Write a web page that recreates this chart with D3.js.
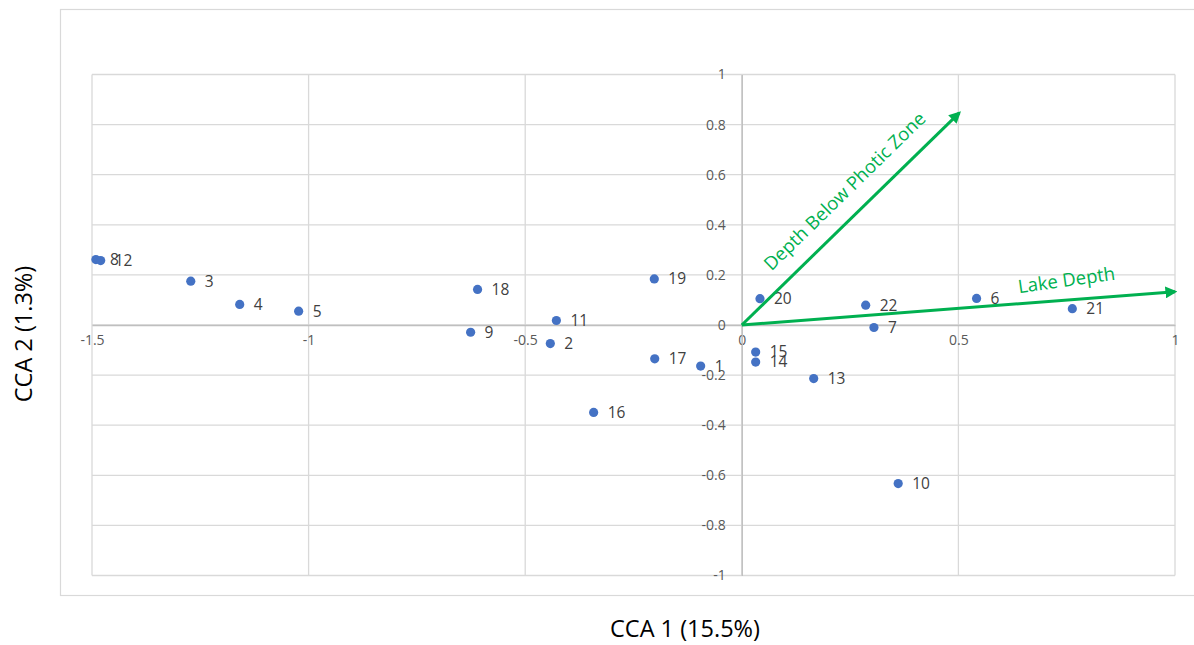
<!DOCTYPE html>
<html>
<head>
<meta charset="utf-8">
<script src="https://cdn.jsdelivr.net/npm/d3@7"></script>
<style>
  html, body { margin: 0; padding: 0; background: #fff; }
  svg { display: block; }
</style>
</head>
<body>
<svg id="chart" width="1194" height="645"></svg>
<script>
// Site scores on the first two CCA axes
const siteIds = ["1","2","3","4","5","6","7","8","9","10","11","12","13","14","15","16","17","18","19","20","21","22"];
const cca1 = [-0.095,-0.442,-1.272,-1.159,-1.023,0.542,0.305,-1.491,-0.626,0.361,-0.428,-1.480,0.166,0.032,0.032,-0.342,-0.201,-0.610,-0.202,0.042,0.763,0.286];
const cca2 = [-0.164,-0.074,0.175,0.082,0.055,0.106,-0.010,0.261,-0.029,-0.633,0.018,0.257,-0.214,-0.148,-0.108,-0.349,-0.135,0.142,0.184,0.105,0.065,0.079];

// Environmental variable vectors (biplot arrows)
const envNames = ["Lake Depth", "Depth Below Photic Zone"];
const envX = [1.0, 0.502];
const envY = [0.133, 0.847];

// Axis ticks
const xTicks = [-1.5, -1, -0.5, 0, 0.5, 1];
const yTicks = [-1, -0.8, -0.6, -0.4, -0.2, 0, 0.2, 0.4, 0.6, 0.8, 1];

const svg = d3.select("#chart");
const font = "'Open Sans', 'Noto Sans', sans-serif";

const x = d3.scaleLinear().domain([-1.5, 1]).range([92, 1175]);
const y = d3.scaleLinear().domain([-1, 1]).range([575.5, 74.5]);

// Chart frame
svg.append("rect")
  .attr("x", 60.5).attr("y", 9.5).attr("width", 1140).attr("height", 586)
  .attr("fill", "#fff").attr("stroke", "#d9d9d9").attr("stroke-width", 1.2);

// Gridlines
const grid = svg.append("g").attr("stroke", "#d9d9d9").attr("stroke-width", 1.3);
grid.selectAll("line.v").data(xTicks).join("line")
  .attr("x1", d => x(d)).attr("x2", d => x(d))
  .attr("y1", y(1)).attr("y2", y(-1));
grid.selectAll("line.h").data(yTicks).join("line")
  .attr("y1", d => y(d)).attr("y2", d => y(d))
  .attr("x1", x(-1.5)).attr("x2", x(1));

// Axes through the origin
const xAxis = d3.axisBottom(x).tickValues(xTicks).tickSize(0).tickPadding(10)
  .tickFormat(d => String(d));
const yAxis = d3.axisLeft(y).tickValues(yTicks).tickSize(0).tickPadding(16)
  .tickFormat(d => String(+d.toFixed(1)));

const gx = svg.append("g").attr("transform", `translate(0,${y(0)})`).call(xAxis);
const gy = svg.append("g").attr("transform", `translate(${x(0)},0)`).call(yAxis);
[gx, gy].forEach(g => {
  g.select(".domain").attr("stroke", "#bfbfbf").attr("stroke-width", 1.3);
  g.selectAll("text").attr("fill", "#595959").style("font-family", font).style("font-size", "14px");
});

// Site points and labels
const sites = siteIds.map((id, i) => ({ id, cx: cca1[i], cy: cca2[i] }));
svg.append("g").selectAll("circle").data(sites).join("circle")
  .attr("cx", d => x(d.cx)).attr("cy", d => y(d.cy)).attr("r", 4.6)
  .attr("fill", "#4472c4");
svg.append("g").selectAll("text").data(sites).join("text")
  .attr("x", d => x(d.cx) + 14).attr("y", d => y(d.cy))
  .attr("dy", "0.35em")
  .attr("fill", "#404040")
  .style("font-family", font).style("font-size", "15.5px")
  .text(d => d.id);

// Environmental arrows
const green = "#00b050";
svg.append("defs").append("marker")
  .attr("id", "head").attr("viewBox", "0 0 10 10")
  .attr("refX", 8).attr("refY", 5)
  .attr("markerWidth", 4).attr("markerHeight", 4)
  .attr("markerUnits", "strokeWidth")
  .attr("orient", "auto")
  .append("path").attr("d", "M0,0 L10,5 L0,10 Z").attr("fill", green);

const env = envNames.map((name, i) => ({ name, vx: envX[i], vy: envY[i] }));
svg.append("g").selectAll("line").data(env).join("line")
  .attr("x1", x(0)).attr("y1", y(0))
  .attr("x2", d => x(d.vx)).attr("y2", d => y(d.vy))
  .attr("stroke", green).attr("stroke-width", 3)
  .attr("marker-end", "url(#head)");

// Arrow labels: part-way along each vector, pushed off to its upper side
const labelPlace = [
  { t: 0.753, off: 20, rot: -8 },
  { t: 0.55, off: 24, rot: null }
];
svg.append("g").selectAll("text").data(env).join("text")
  .attr("transform", (d, i) => {
    const p = labelPlace[i];
    const x0 = x(0), y0 = y(0);
    const dx = x(d.vx) - x0, dy = y(d.vy) - y0, len = Math.hypot(dx, dy);
    const px = x0 + dx * p.t + (dy / len) * p.off;
    const py = y0 + dy * p.t - (dx / len) * p.off;
    const ang = p.rot !== null ? p.rot : Math.atan2(dy, dx) * 180 / Math.PI;
    return `translate(${px},${py}) rotate(${ang})`;
  })
  .attr("text-anchor", "middle").attr("dy", "0.35em")
  .attr("fill", green)
  .style("font-family", font).style("font-size", "18.5px")
  .text(d => d.name);

// Axis titles
svg.append("text")
  .attr("x", 685).attr("y", 629)
  .attr("text-anchor", "middle").attr("dy", "0.35em")
  .attr("fill", "#000")
  .style("font-family", font).style("font-size", "23.5px")
  .text("CCA 1 (15.5%)");
svg.append("text")
  .attr("transform", "translate(24,334) rotate(-90)")
  .attr("text-anchor", "middle").attr("dy", "0.35em")
  .attr("fill", "#000")
  .style("font-family", font).style("font-size", "23.5px")
  .text("CCA 2 (1.3%)");
</script>
</body>
</html>
